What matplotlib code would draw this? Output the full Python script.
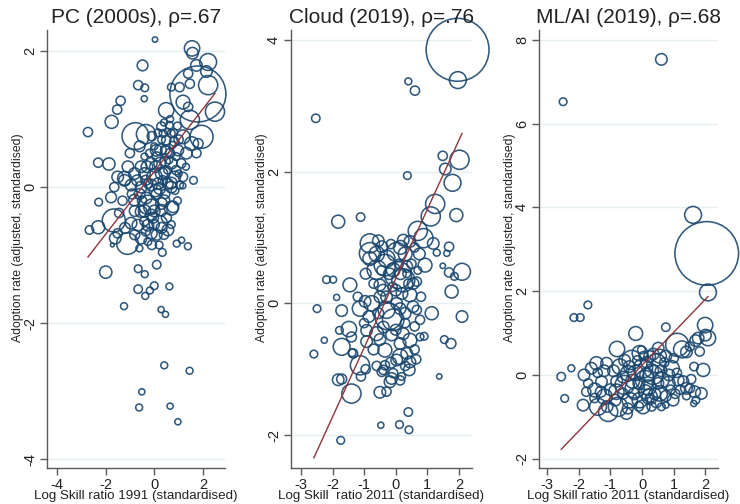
import numpy as np
import matplotlib
matplotlib.use('Agg')
import matplotlib.pyplot as plt

plt.rcParams['font.family'] = ['Liberation Sans', 'DejaVu Sans']

# PC (2000s): x = log skill ratio 1991, y = adoption rate, w = bubble weight
pc_x = [0.03, 1.55, 1.57, 2.21, 2.14, 2.21, 2.49, 1.73, 1.39, 1.04, 1.46, 1.18, 1.39, 0.49, 1.46, 1.94, 0.70, 1.79,
        -0.48, -0.66, -0.39, -0.41, -1.38, -1.52, -1.75, -2.72, -0.77, -0.34,
        -2.30, -1.86, 1.61, 1.17, -2.28, -1.77, -2.66, -2.30, -1.66, -1.60, -1.10, -0.61, -1.72, 0.92, 1.12, 1.38,
        0.33, 0.10, -1.99, -0.66, -0.39, -0.66, -0.37, -0.18, 0.00, 0.62, -1.24, 0.28, 0.46, 0.41, 1.45, -0.51,
        -0.62, 0.65, 0.97,
        0.29, 0.62, 0.36, 0.70, 0.49, 0.82, 1.18, 1.53, 1.80, 0.08, 0.49, 0.98, 1.32, 1.73,
        -1.08, -0.54, -0.12, 0.22, 0.70, 1.11, -1.50, -1.22, -0.81, -0.40, 0.01, 0.42, 0.84, 1.18, -1.64, -0.95,
        -0.54, -0.12, 0.22, 0.70, -0.81, -0.33, -0.12, 0.29, 0.77, -1.44,
        -1.50, -0.95, -0.54, -0.26, -0.12, 0.29, 0.70, -0.67, -0.26, 0.22, 0.56, -0.54, -0.12, -0.26, 0.15, 0.70,
        1.04, -1.22,
        0.45, 0.60, 0.90, 0.30, 0.55, 0.75, 0.10, -0.20, -0.40, 0.00, 0.35, 0.55, -0.25, 0.10, 0.45, -0.05, 0.10,
        0.40, -0.35, -0.50, 0.85, 1.00, 1.30, 0.95, 0.65,
        -0.60, -0.10, 0.15, 0.40, 0.80, 1.00, 0.25, 0.65, -0.30, 0.05, 0.45, 0.90, -0.70, -0.35, 0.30, 0.55,
        -0.90, -0.60, 0.05, 0.40, 0.95, -0.80, -0.40, 0.00, 0.50, -1.20, -0.80, -0.40, 0.00, 0.30, 0.70, -0.10,
        0.20, -1.30, -1.00]
pc_y = [2.17, 2.04, 1.97, 1.84, 1.70, 1.50, 1.11, 1.79, 1.67, 1.47, 1.52, 1.25, 1.18, 1.13, 0.99, 0.74, 1.47, 1.37,
        1.79, 1.50, 1.46, 1.30, 1.27, 1.14, 0.96, 0.81, 0.75, 0.78,
        0.36, 0.34, 0.10, 0.02, -0.22, -0.15, -0.63, -0.59, -0.49, -0.75, -0.83, -0.90, -0.85, -0.83, -0.78, -0.87,
        -0.96, -1.14, -1.25, -1.20, -1.28, -1.50, -1.60, -1.52, -1.45, -1.46, -1.75, -1.80, -1.87, -2.62, -2.70, -3.01,
        -3.24, -3.22, -3.45,
        0.89, 0.91, 0.79, 0.79, 0.69, 0.67, 0.74, 0.64, 0.64, 0.54, 0.52, 0.54, 0.50, 0.50,
        0.30, 0.30, 0.35, 0.35, 0.35, 0.35, 0.15, 0.13, 0.20, 0.20, 0.15, 0.22, 0.15, 0.15, 0.00, 0.03,
        0.00, 0.03, -0.02, 0.00, -0.19, -0.16, -0.29, -0.24, -0.29, -0.38,
        -0.68, -0.53, -0.36, -0.26, -0.41, -0.34, -0.31, -0.56, -0.56, -0.53, -0.63, -0.75, -0.68, -0.80, 0.05, 0.06,
        0.03, 0.10,
        0.55, 0.40, 0.45, 0.70, 0.82, 0.62, 0.45, 0.50, 0.45, 0.60, 0.10, 0.25, 0.05, -0.10, -0.10, -0.45, -0.70,
        -0.70, -0.65, -0.20, -0.05, 0.20, 0.30, 0.90, 1.00,
        0.60, 0.75, 0.80, 0.95, 0.80, 0.70, 0.55, 0.50, 0.30, 0.30, 0.38, 0.25, 0.10, 0.10, 0.20, 0.05,
        -0.10, -0.10, -0.05, -0.20, -0.20, -0.35, -0.35, -0.35, -0.45, -0.60, -0.70, -0.50, -0.55, -0.60, -0.55, -0.85,
        -0.85, -0.20, 0.50]
pc_w = [7, 20, 15, 22, 15, 25, 25, 15, 12, 12, 12, 18, 12, 20, 25, 30, 10, 73,
        14, 12, 10, 8, 12, 12, 17, 12, 35, 25,
        12, 16, 10, 8, 10, 14, 11, 17, 30, 15, 28, 9, 5, 9, 8, 9,
        10, 11, 16, 10, 9, 11, 9, 9, 10, 9, 9, 8, 8, 9, 9, 8,
        9, 8, 8,
        12, 10, 10, 10, 12, 12, 18, 18, 13, 15, 15, 14, 15, 12,
        15, 15, 15, 15, 15, 12, 15, 18, 15, 15, 20, 15, 15, 12, 12, 15,
        15, 15, 15, 15, 15, 15, 20, 15, 15, 12,
        12, 15, 15, 25, 15, 15, 18, 15, 15, 20, 15, 15, 15, 10, 15, 15,
        10, 15,
        12, 10, 10, 10, 8, 9, 12, 10, 9, 9, 12, 10, 12, 14, 12, 14, 14,
        12, 12, 12, 10, 9, 9, 10, 9,
        14, 12, 10, 9, 10, 12, 15, 12, 15, 15, 13, 12, 14, 13, 16, 14,
        13, 14, 16, 15, 10, 14, 16, 15, 13, 14, 13, 12, 13, 14, 10, 12,
        10, 12, 12]
pc_fit = [0.229, 0.462]  # intercept, slope

# Cloud (2019)
cl_x = [1.97, 1.96, 0.40, 0.61, -2.53, 1.49, 2.02, 1.57, 0.37, 1.80, 1.25, 1.92, 1.11, -1.11, -1.82, 0.70, 0.88,
        1.30, 1.69, 1.62, 1.49, 1.69, 2.10, 1.86, 1.77, 1.14, 2.10, 1.54, 1.75, 1.38, 0.40, -0.47, 0.12, 0.42,
        -1.74, -2.59, -2.26, -2.49, -2.19, -1.98, -1.87, -1.45, -1.71, -1.78, -1.48, -1.71, -1.40, -1.38, -1.13,
        -1.10, -1.82, -1.71, -1.40, -0.50, -0.29, -0.39, -0.13, 0.19, 0.43,
        -0.82, -0.44, -0.29, -0.82, 0.03, 0.24, 0.45, 1.19, -0.60, -0.08, 0.35, 0.93, 0.67, 0.24, -0.50, -0.29,
        0.45, -0.97, 0.03,
        -1.13, -0.76, -0.29, -0.08, -0.50, 0.14, 0.67, 0.77, -0.92, -0.60, -0.39, -0.13, 0.24, 0.45, 0.14, 0.77,
        -1.35, -0.92, -0.34, 0.14, 0.35, 0.45, 0.03, -0.34, -0.44, -0.08, 0.14, -0.18,
        -0.60, -0.20, 0.10, 0.30, 0.50, -0.45, 0.55, 0.20, -0.10, 0.35, 0.75, 0.08, -0.34, -0.81, -0.23,
        -0.55, -0.15, 0.15, 0.60, -0.95, -0.70, 0.00, 0.40, 0.70, -0.85, -0.55, 0.30, 0.60, -0.70, -0.50, 0.00,
        0.30, 0.60, 0.30, -0.15, -0.60, 0.65, -1.00, 0.55, -0.40, 0.15, -1.20, 0.80, 0.90, -0.95]
cl_y = [3.39, 3.85, 3.37, 3.23, 2.81, 2.24, 2.18, 2.04, 1.94, 1.83, 1.51, 1.34, 1.32, 1.31, 1.24, 1.10, 0.99,
        0.77, 0.86, 0.76, 0.57, 0.47, 0.48, 0.41, 0.18, -0.15, -0.20, -0.55, -0.61, -1.11, -1.65, -1.85, -1.84, -1.92,
        -2.08, -0.77, -0.56, -0.08, 0.36, 0.36, 0.09, 0.28, -0.11, -0.41, -0.39, -0.66, -0.51, -0.75, -0.94,
        -1.11, -1.16, -1.15, -1.37, -1.35, -1.34, -1.01, -1.14, -1.11, -1.01,
        0.91, 0.86, 0.68, 0.68, 0.78, 0.96, 0.94, 0.91, 0.51, 0.51, 0.56, 0.58, 0.33, 0.35, 0.28, 0.10,
        0.13, 0.03, 0.00,
        -0.08, 0.00, -0.10, -0.25, 0.10, -0.08, -0.10, -0.25, -0.41, -0.46, -0.36, -0.48, -0.46, -0.56, -0.61, -0.51,
        -0.76, -0.58, -0.71, -0.81, -0.76, -0.89, -0.86, -0.94, -1.04, -1.06, -1.17, -1.19,
        0.75, 0.45, 0.60, 0.75, 0.60, 0.50, 0.30, 0.15, 0.25, 0.45, 0.75, 0.43, 0.58, 0.76, -0.20,
        0.95, 0.90, 0.85, 0.85, 0.45, 0.30, 0.20, 0.30, 0.50, -0.20, -0.15, -0.15, -0.35, -0.70, -0.55, -0.40,
        -0.30, -0.70, -0.95, -0.90, -0.95, -0.85, -0.30, -0.05, 0.20, 0.45, 0.10, 0.10, -0.50, -1.00]
cl_w = [22, 82, 9, 12, 11, 12, 25, 15, 10, 22, 25, 17, 25, 11, 17, 25, 25,
        9, 12, 8, 7, 12, 22, 10, 17, 17, 15, 10, 13, 7, 11, 8, 10, 10,
        10, 10, 8, 10, 10, 9, 8, 18, 15, 10, 20, 22, 13, 10, 25,
        12, 15, 13, 25, 15, 12, 12, 15, 10, 15,
        25, 15, 22, 18, 25, 15, 15, 15, 25, 18, 15, 18, 12, 30, 15, 15,
        18, 15, 15,
        20, 20, 22, 28, 15, 15, 12, 12, 15, 18, 15, 15, 15, 18, 15, 10,
        12, 15, 18, 20, 15, 15, 15, 12, 12, 12, 12, 15,
        20, 15, 12, 18, 12, 12, 15, 15, 12, 10, 15, 35, 28, 28, 35,
        15, 12, 18, 12, 14, 12, 15, 12, 10, 15, 14, 15, 12, 14, 15, 14,
        12, 12, 12, 14, 12, 12, 12, 15, 15, 15, 12, 12, 10, 12]
cl_fit = [0.375, 1.05]

# ML/AI (2019)
ml_x = [0.61, -2.49, 1.61, 2.04, 2.08, -1.71, -2.15, -1.95, -0.20, 0.75, 1.99, 2.08, 2.00, 1.82, 1.51, 1.11, 1.26,
        1.69, 1.93, 1.64, -2.55, -2.23, -2.44, -0.79, 0.51, -0.02, -1.83, -1.86, -1.07, -0.49, 0.75, 1.63, 1.87,
        1.51, 1.77,
        -1.44, -1.60, -1.12, -0.70, -0.33, -0.07, 0.24, 0.45, 0.03, -0.44, 0.93, 1.40, -1.76, -1.28, -1.49, -1.18,
        -0.81, -0.55, -0.23, 0.09, 0.35, 0.61, 0.82, 1.14, 1.40, 1.66, -1.39, -0.76, -0.39, -0.07, 0.24, 0.56,
        0.03, 0.98, 0.61,
        0.20, 0.40, 0.30, -0.10, 0.50, 0.15, -0.40, 0.70, -0.60, -1.00, -1.40, 0.90, 0.25, -0.20, 0.55, 1.20,
        1.40, -1.50, -0.25, 0.05,
        -1.20, -0.90, -0.55, -0.15, 0.35, 0.75, 1.00, -1.70, -1.30, -0.85, -0.60, -0.30, 0.10, 0.45, 0.75, 1.05,
        1.30, 1.55, -0.10, 0.30, 0.15, 0.60, -0.80, -1.10, 1.70, 1.10, -0.45, 0.85]
ml_y = [7.53, 6.52, 3.82, 2.90, 1.97, 1.67, 1.37, 1.37, 0.99, 1.14, 1.19, 0.88, 0.95, 0.56, 0.68, 0.72, 0.61,
        0.82, 0.12, 0.20, -0.04, 0.16, -0.56, 0.62, 0.64, 0.60, 0.00, -0.72, -0.88, -0.92, -0.72, -0.68, -0.44,
        -0.32, 0.88,
        0.28, 0.16, 0.28, 0.20, 0.36, 0.52, 0.44, 0.28, 0.16, 0.04, 0.16, 0.55, -0.40, -0.16, -0.36, -0.52,
        -0.40, -0.24, -0.32, -0.12, 0.00, -0.12, -0.20, -0.12, -0.32, -0.40, -0.76, -0.76, -0.60, -0.60, -0.52, -0.44,
        -0.76, -0.60, -0.76,
        -0.30, -0.45, 0.10, -0.20, -0.20, 0.30, 0.20, 0.30, -0.05, -0.35, 0.05, -0.35, -0.55, 0.05, 0.45, -0.35,
        -0.50, -0.55, -0.45, 0.45,
        0.10, 0.10, 0.35, 0.35, 0.50, 0.45, 0.40, -0.20, -0.40, -0.60, -0.45, -0.15, -0.40, -0.65, -0.50, -0.45,
        -0.15, -0.10, -0.75, -0.75, 0.00, 0.10, -0.15, -0.75, -0.60, 0.05, -0.80, 0.00]
ml_w = [15, 10, 22, 83, 22, 10, 10, 10, 18, 11, 20, 20, 15, 12, 12, 30, 22,
        15, 17, 11, 11, 9, 10, 20, 15, 10, 15, 15, 25, 15, 8, 8, 15,
        12, 15,
        17, 15, 15, 20, 25, 20, 15, 25, 25, 20, 20, 15, 12, 15, 18, 20,
        20, 25, 25, 25, 25, 20, 18, 15, 15, 15, 22, 25, 20, 20, 20, 20,
        18, 15, 10,
        20, 15, 18, 15, 15, 15, 15, 12, 15, 15, 12, 12, 12, 20, 18, 12,
        10, 12, 15, 12,
        15, 15, 15, 12, 15, 15, 12, 12, 14, 15, 14, 18, 18, 14, 14, 12,
        14, 12, 12, 12, 18, 15, 15, 15, 10, 12, 14, 15]
ml_fit = [0.233, 0.787]

navy = '#1a476f'
maroon = '#90353b'


def panel(ax, x, y, w, fit, title, xlabel, xlim, ylim, xticks, yticks):
    x = np.array(x)
    w = np.array(w, dtype=float)
    ax.scatter(x, y, s=(0.552 * w) ** 2, facecolors='none', edgecolors=navy,
               linewidths=1.15, alpha=0.9, clip_on=False, zorder=2)
    xs = np.array([x.min(), x.max()])
    ax.plot(xs, fit[0] + fit[1] * xs, color=maroon, lw=1.0, zorder=3)
    ax.set_xlim(xlim)
    ax.set_ylim(ylim)
    ax.set_xticks(xticks)
    ax.set_yticks(yticks)
    ax.set_xticklabels([str(t) for t in xticks], fontsize=10.5)
    ax.set_yticklabels([str(t) for t in yticks], fontsize=10.5, rotation=90, va='center')
    ax.yaxis.grid(True, color='#e6eff0', lw=1.0, zorder=0)
    ax.set_axisbelow(True)
    for s in ['top', 'right']:
        ax.spines[s].set_visible(False)
    for s in ['left', 'bottom']:
        ax.spines[s].set_color('#5a5a5a')
        ax.spines[s].set_linewidth(1.0)
    ax.tick_params(colors='#5a5a5a', length=5, width=1.0, labelcolor='#222222', pad=2)
    ax.set_title(title, fontsize=15, color='#222222', pad=5)
    ax.set_xlabel(xlabel, fontsize=9.6, color='#222222', labelpad=-1)
    ax.set_ylabel('Adoption rate (adjusted, standardised)', fontsize=8.8, color='#222222')
    # ylabel sits just left of the tick labels, a little above the middle
    wpx = ax.get_position().width * 740
    ax.yaxis.set_label_coords(-23.0 / wpx, 0.525)


fig = plt.figure(figsize=(7.4, 5.04), dpi=100)
ax1 = fig.add_axes([0.0635, 0.0714, 0.2405, 0.869])
ax2 = fig.add_axes([0.393, 0.0714, 0.245, 0.869])
ax3 = fig.add_axes([0.728, 0.0714, 0.242, 0.869])

panel(ax1, pc_x, pc_y, pc_w, pc_fit, 'PC (2000s), \u03c1=.67', 'Log Skill ratio 1991 (standardised)',
      (-4.4, 2.9), (-4.13, 2.31), [-4, -2, 0, 2], [-4, -2, 0, 2])
panel(ax2, cl_x, cl_y, cl_w, cl_fit, 'Cloud (2019), \u03c1=.76', 'Log Skill  ratio 2011 (standardised)',
      (-3.32, 2.42), (-2.5, 4.15), [-3, -2, -1, 0, 1, 2], [-2, 0, 2, 4])
panel(ax3, ml_x, ml_y, ml_w, ml_fit, 'ML/AI (2019), \u03c1=.68', 'Log Skill ratio 2011 (standardised)',
      (-3.26, 2.39), (-2.22, 8.23), [-3, -2, -1, 0, 1, 2], [-2, 0, 2, 4, 6, 8])

fig.savefig('out.png', dpi=100)
